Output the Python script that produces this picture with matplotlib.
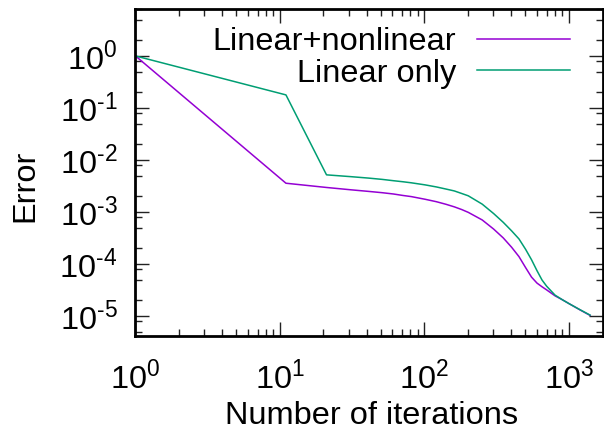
import math
import matplotlib
matplotlib.use("Agg")
import matplotlib.pyplot as plt
from matplotlib.ticker import LogLocator, FuncFormatter, NullFormatter

FS = 23.4

plt.rcParams.update({
    "font.family": ["Liberation Sans", "DejaVu Sans"],
    "mathtext.fontset": "custom",
    "mathtext.rm": "Liberation Sans",
    "axes.linewidth": 2.0,
    "axes.edgecolor": "black",
    "xtick.direction": "in",
    "ytick.direction": "in",
    "xtick.top": True,
    "ytick.right": True,
    "xtick.major.size": 10,
    "ytick.major.size": 10,
    "xtick.minor.size": 5,
    "ytick.minor.size": 5,
    "xtick.major.width": 1.0,
    "ytick.major.width": 1.0,
    "xtick.minor.width": 1.0,
    "ytick.minor.width": 1.0,
    "xtick.color": "#222222",
    "ytick.color": "#222222",
    "xtick.labelcolor": "black",
    "ytick.labelcolor": "black",
    "xtick.major.pad": 18,
    "ytick.major.pad": 13,
    "xtick.labelsize": FS,
    "ytick.labelsize": FS,
})

# Convergence history: error vs. iteration count
iterations = [1, 11, 21, 31, 41, 51, 61, 71, 81, 101, 121, 141, 161, 181, 201,
              251, 301, 351, 401, 451, 501, 551, 601, 651, 701, 801, 901, 1001,
              1201, 1401]
err_lin_nonlin = [1.0, 3.56e-3, 2.95e-3, 2.66e-3, 2.48e-3, 2.34e-3, 2.21e-3,
                  2.07e-3, 1.97e-3, 1.75e-3, 1.57e-3, 1.40e-3, 1.25e-3, 1.11e-3,
                  9.8e-4, 7.0e-4, 4.68e-4, 3.16e-4, 2.09e-4, 1.38e-4, 8.5e-5,
                  5.56e-5, 4.27e-5, 3.63e-5, 3.16e-5, 2.43e-5, 2.04e-5, 1.72e-5,
                  1.29e-5, 1.02e-5]
err_lin_only = [1.0, 0.178, 5.16e-3, 4.76e-3, 4.47e-3, 4.22e-3, 3.98e-3,
                3.80e-3, 3.63e-3, 3.31e-3, 3.02e-3, 2.75e-3, 2.53e-3, 2.26e-3,
                2.04e-3, 1.41e-3, 9.3e-4, 6.3e-4, 4.32e-4, 3.02e-4, 1.91e-4,
                1.20e-4, 7.4e-5, 4.9e-5, 3.72e-5, 2.51e-5, 2.04e-5, 1.72e-5,
                1.30e-5, 1.035e-5]
series_labels = ["Linear+nonlinear", "Linear only"]
series_colors = ["#9400d3", "#009e73"]

fig = plt.figure(figsize=(6.04, 4.34), dpi=100)
ax = fig.add_axes([0.2243, 0.2258, 0.774, 0.7535])

ax.plot(iterations, err_lin_nonlin, color=series_colors[0], lw=1.1, label=series_labels[0])
ax.plot(iterations, err_lin_only, color=series_colors[1], lw=1.1, label=series_labels[1])

ax.set_xscale("log")
ax.set_yscale("log")
ax.set_xlim(1, 1720)
ax.set_ylim(4.1e-6, 8.0)


def pow_formatter(axis):
    """Power-of-ten labels, blank for decades outside the visible range."""
    def fmt(v, pos):
        lo, hi = sorted(axis.get_view_interval())
        if v < lo * 0.999 or v > hi * 1.001:
            return ""
        e = int(round(math.log10(v)))
        return r"$10^{\text{%d}}$" % e
    return FuncFormatter(fmt)


ax.xaxis.set_major_locator(LogLocator(base=10, numticks=20))
ax.yaxis.set_major_locator(LogLocator(base=10, numticks=20))
ax.xaxis.set_minor_locator(LogLocator(base=10, subs=range(2, 10), numticks=20))
ax.yaxis.set_minor_locator(LogLocator(base=10, subs=(2, 5, 8), numticks=20))
ax.xaxis.set_major_formatter(pow_formatter(ax.xaxis))
ax.yaxis.set_major_formatter(pow_formatter(ax.yaxis))
ax.xaxis.set_minor_formatter(NullFormatter())
ax.yaxis.set_minor_formatter(NullFormatter())

ax.set_xlabel("Number of iterations", fontsize=FS)
ax.set_ylabel("Error", fontsize=FS)
ax.xaxis.label.set_va("center")
ax.xaxis.set_label_coords(0.506, -0.245)
ax.yaxis.label.set_va("center")
ax.yaxis.set_label_coords(-0.236, 0.46)

ax.legend(loc="upper right", bbox_to_anchor=(0.929, 0.945), frameon=False,
          markerfirst=False, fontsize=FS, handlelength=2.85, handletextpad=0.65,
          labelspacing=0.05, borderpad=0, borderaxespad=0)

fig.savefig("out.png", dpi=100)
